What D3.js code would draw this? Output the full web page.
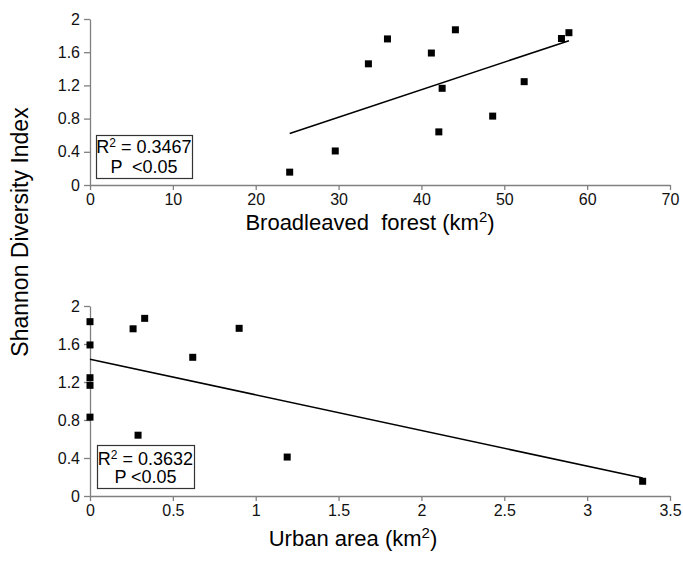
<!DOCTYPE html>
<html>
<head>
<meta charset="utf-8">
<script src="https://cdn.jsdelivr.net/npm/d3@7"></script>
<style>
  body { margin: 0; background: #fff; }
  svg { display: block; font-family: "Liberation Sans", Arial, sans-serif; }
  .axis path, .axis line { stroke: #808080; stroke-width: 1.3; }
  .axis text { font-size: 16px; fill: #111; font-family: "Liberation Sans", Arial, sans-serif; }
</style>
</head>
<body>
<div id="chart"></div>
<script>
// values, one entry per site
const shannon = [0.155, 0.41, 1.46, 1.76, 1.59, 1.165, 0.64, 1.87, 0.83, 1.245, 1.765, 1.835];
const forestArea = [24.1, 29.6, 33.6, 35.9, 41.2, 42.5, 42.1, 44.1, 48.6, 52.4, 56.9, 57.8];
const urbanArea = [3.335, 1.19, 0.62, 0.26, 0, 0, 0.29, 0.33, 0, 0, 0.9, 0];

// regression lines as printed: [intercept, slope]
const forestFit = [-0.18, 0.0332];
const urbanFit = [1.44, -0.375];

const yTicks = [0, 0.4, 0.8, 1.2, 1.6, 2];
const forestTicks = [0, 10, 20, 30, 40, 50, 60, 70];
const urbanTicks = [0, 0.5, 1, 1.5, 2, 2.5, 3, 3.5];
const statsText = [
  ["0.3467", "P  <0.05"],
  ["0.3632", "P <0.05"],
];

const width = 683,
  height = 570;

const svg = d3
  .select("#chart")
  .append("svg")
  .attr("width", width)
  .attr("height", height);

const panels = [
  {
    xs: forestArea,
    fit: forestFit,
    ticks: forestTicks,
    domain: [0, 70],
    top: 19,
    bottom: 185,
    label: "Broadleaved  forest (km",
    labelX: 370,
    labelY: 230,
    stats: statsText[0],
    box: { x: 96, y: 135, w: 96, h: 43, l1: 153, l2: 173 },
  },
  {
    xs: urbanArea,
    fit: urbanFit,
    ticks: urbanTicks,
    domain: [0, 3.5],
    top: 306,
    bottom: 496,
    label: "Urban area (km",
    labelX: 353,
    labelY: 546,
    stats: statsText[1],
    box: { x: 97, y: 445, w: 97, h: 43, l1: 465, l2: 483 },
  },
];

const left = 90,
  right = 670;

for (const p of panels) {
  const x = d3.scaleLinear().domain(p.domain).range([left, right]);
  const y = d3.scaleLinear().domain([0, 2]).range([p.bottom, p.top]);

  svg
    .append("g")
    .attr("class", "axis")
    .attr("transform", "translate(0," + p.bottom + ")")
    .call(
      d3
        .axisBottom(x)
        .tickValues(p.ticks)
        .tickFormat((d) => d)
        .tickSize(5)
        .tickSizeOuter(0)
        .tickPadding(4)
    );

  svg
    .append("g")
    .attr("class", "axis")
    .attr("transform", "translate(" + left + ",0)")
    .call(
      d3
        .axisLeft(y)
        .tickValues(yTicks)
        .tickFormat((d) => d)
        .tickSize(6)
        .tickSizeOuter(0)
        .tickPadding(4)
    );

  // fitted line over the range of the data
  const ext = d3.extent(p.xs);
  svg
    .append("line")
    .attr("x1", x(ext[0]))
    .attr("y1", y(p.fit[0] + p.fit[1] * ext[0]))
    .attr("x2", x(ext[1]))
    .attr("y2", y(p.fit[0] + p.fit[1] * ext[1]))
    .attr("stroke", "#000")
    .attr("stroke-width", 1.6);

  // site markers
  svg
    .append("g")
    .selectAll("rect")
    .data(p.xs.map((v, i) => ({ x: v, y: shannon[i] })))
    .enter()
    .append("rect")
    .attr("x", (d) => x(d.x) - 3.5)
    .attr("y", (d) => y(d.y) - 3.5)
    .attr("width", 7)
    .attr("height", 7)
    .attr("fill", "#000");

  // stats box
  const b = p.box;
  svg
    .append("rect")
    .attr("x", b.x + 0.5)
    .attr("y", b.y + 0.5)
    .attr("width", b.w)
    .attr("height", b.h)
    .attr("fill", "#fff")
    .attr("stroke", "#333")
    .attr("stroke-width", 1.2);

  const t1 = svg
    .append("text")
    .attr("x", b.x + b.w / 2)
    .attr("y", b.l1)
    .attr("text-anchor", "middle")
    .style("font-size", "18px");
  t1.append("tspan").text("R");
  t1.append("tspan").attr("dy", -6).style("font-size", "12px").text("2");
  t1.append("tspan").attr("dy", 6).text(" = " + p.stats[0]);

  svg
    .append("text")
    .attr("x", b.x + b.w / 2)
    .attr("y", b.l2)
    .attr("text-anchor", "middle")
    .style("font-size", "18px")
    .style("white-space", "pre")
    .text(p.stats[1]);

  // x axis title with superscript
  const xt = svg
    .append("text")
    .attr("x", p.labelX)
    .attr("y", p.labelY)
    .attr("text-anchor", "middle")
    .style("font-size", "22px")
    .style("white-space", "pre");
  xt.append("tspan").text(p.label);
  xt.append("tspan").attr("dy", -8).style("font-size", "15px").text("2");
  xt.append("tspan").attr("dy", 8).text(")");
}

// shared y axis title
svg
  .append("text")
  .attr("transform", "translate(28,232) rotate(-90)")
  .attr("text-anchor", "middle")
  .style("font-size", "23px")
  .text("Shannon Diversity Index");
</script>
</body>
</html>
